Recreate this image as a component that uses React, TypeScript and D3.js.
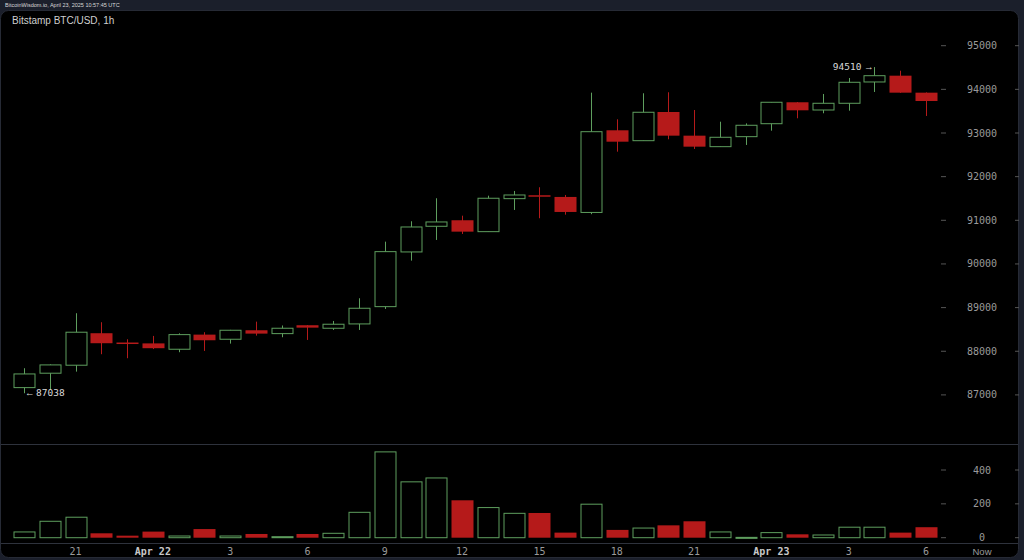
import React from "react";
import * as d3 from "d3";

// Hourly candles, Apr 21 19:00 UTC → Apr 23 06:00 UTC
const hours = [19,20,21,22,23,0,1,2,3,4,5,6,7,8,9,10,11,12,13,14,15,16,17,18,19,20,21,22,23,0,1,2,3,4,5,6];
const opens = [87167,87497,87680,88413,88200,88180,88046,88381,88275,88481,88404,88596,88527,88626,89022,90275,90863,91001,90740,91496,91574,91535,91180,93062,92824,93481,92939,92687,92916,93213,93704,93527,93681,94169,94313,93924];
const highs = [87611,87700,88871,88665,88275,88351,88410,88436,88490,88678,88590,88600,88694,89214,90511,90978,91505,91106,91564,91672,91757,91580,93924,93314,93910,93933,93527,93259,93220,93710,93710,93894,94260,94510,94427,93930];
const lows = [87038,87114,87533,87932,87840,88050,87978,88007,88175,88358,88321,88259,88488,88488,88969,90076,90550,90687,90740,91237,91047,91129,91140,92572,92820,92856,92634,92680,92726,93053,93337,93452,93511,93940,93920,93390];
const closes = [87480,87687,88436,88184,88180,88070,88381,88252,88481,88404,88527,88541,88619,88985,90282,90847,90962,90740,91505,91580,91560,91191,93030,92801,93475,92939,92687,92902,93177,93704,93520,93681,94162,94313,93924,93733];
const volumes = [34,97,121,26,12,36,10,51,10,22,6,22,26,150,507,330,353,221,178,144,146,30,198,46,57,73,97,34,2,30,20,16,62,62,30,62];

const priceTicks = [87000,88000,89000,90000,91000,92000,93000,94000,95000];
const volumeTicks = [0,200,400];
const timeTicks = [
  { i: 2, label: "21", bold: false },
  { i: 5, label: "Apr 22", bold: true },
  { i: 8, label: "3", bold: false },
  { i: 11, label: "6", bold: false },
  { i: 14, label: "9", bold: false },
  { i: 17, label: "12", bold: false },
  { i: 20, label: "15", bold: false },
  { i: 23, label: "18", bold: false },
  { i: 26, label: "21", bold: false },
  { i: 29, label: "Apr 23", bold: true },
  { i: 32, label: "3", bold: false },
  { i: 35, label: "6", bold: false },
];

const GREEN = "#5e9e5e";
const RED = "#b51a1a";
const MONO = "'DejaVu Sans Mono', monospace";
const SANS = "'Liberation Sans', Arial, sans-serif";

export default function App() {
  const W = 1024, H = 560;
  const x = d3.scaleLinear().domain([0, hours.length - 1]).range([24, 926]);
  const y = d3.scaleLinear().domain([87000, 95000]).range([394.9, 45.7]);
  const yv = d3.scaleLinear().domain([0, 400]).range([537.7, 470]);
  const bw = 21;
  const axisX = 982;

  const lowIdx = d3.minIndex(lows);
  const highIdx = d3.maxIndex(highs);
  const lx = x(lowIdx), ly = y(lows[lowIdx]);
  const hx = x(highIdx), hy = y(highs[highIdx]);

  return (
    <svg width={W} height={H} style={{ position: "absolute", left: 0, top: 0, background: "#1b1f2b" }}>
      <rect x={0} y={0} width={W} height={H} fill="#1b1f2b" />
      <text x={5} y={7} fontSize={5.5} fill="#d8d8d8" fontFamily={SANS}>BitcoinWisdom.io, April 23, 2025 10:57:45 UTC</text>
      <rect x={0.5} y={10.5} width={1018} height={547} rx={8} fill="#000" stroke="#262a35" />
      <text x={12} y={24} fontSize={10} fill="#cfcfcf" fontFamily={SANS}>Bitstamp BTC/USD, 1h</text>

      {/* separators */}
      <line x1={1} x2={1018} y1={444.5} y2={444.5} stroke="#2e323c" />
      <line x1={1} x2={1018} y1={543.5} y2={543.5} stroke="#2e323c" />

      {/* price axis */}
      {priceTicks.map((t) => (
        <g key={t}>
          <line x1={941} x2={946} y1={y(t)} y2={y(t)} stroke="#555" />
          <line x1={1015} x2={1019} y1={y(t)} y2={y(t)} stroke="#555" />
          <text x={axisX} y={y(t) + 3.5} fontSize={10} fill="#9a9a9a" textAnchor="middle" fontFamily={MONO}>{t}</text>
        </g>
      ))}

      {/* volume axis */}
      {volumeTicks.map((t) => (
        <g key={t}>
          <line x1={941} x2={946} y1={yv(t)} y2={yv(t)} stroke="#555" />
          <line x1={1015} x2={1019} y1={yv(t)} y2={yv(t)} stroke="#555" />
          <text x={axisX} y={yv(t) + 3.5} fontSize={10} fill="#9a9a9a" textAnchor="middle" fontFamily={MONO}>{t}</text>
        </g>
      ))}

      {/* time axis */}
      {timeTicks.map((t, k) => (
        <text key={k} x={x(t.i)} y={555} fontSize={10} fill={t.bold ? "#c8c8c8" : "#9a9a9a"} fontWeight={t.bold ? "bold" : "normal"} textAnchor="middle" fontFamily={MONO}>{t.label}</text>
      ))}
      <text x={axisX} y={555} fontSize={9.5} fill="#9a9a9a" textAnchor="middle" fontFamily={SANS}>Now</text>

      {/* candles */}
      {hours.map((_, i) => {
        const o = opens[i], c = closes[i], h = highs[i], l = lows[i];
        const up = c >= o;
        const col = up ? GREEN : RED;
        const cx = Math.round(x(i)) + 0.5;
        const top = y(Math.max(o, c));
        const bot = y(Math.min(o, c));
        const bh = Math.max(bot - top, 1);
        return (
          <g key={i}>
            <line x1={cx} x2={cx} y1={y(h)} y2={y(l)} stroke={col} strokeWidth={1} />
            {up ? (
              <rect x={cx - bw / 2} y={top} width={bw} height={bh} fill="#000" stroke={col} strokeWidth={1} />
            ) : (
              <rect x={cx - bw / 2 - 0.5} y={top} width={bw + 1} height={Math.max(bh, 1.5)} fill={col} />
            )}
          </g>
        );
      })}

      {/* volume bars */}
      {volumes.map((v, i) => {
        const up = closes[i] >= opens[i];
        const cx = Math.round(x(i)) + 0.5;
        const top = yv(v);
        const bh = Math.max(yv(0) - top, 1);
        return up ? (
          <rect key={i} x={cx - bw / 2} y={top} width={bw} height={bh} fill="#000" stroke={GREEN} strokeWidth={1} />
        ) : (
          <rect key={i} x={cx - bw / 2 - 0.5} y={top} width={bw + 1} height={bh} fill={RED} />
        );
      })}

      {/* extremes */}
      <text x={lx + 1} y={ly + 3} fontSize={9.5} fill="#d8d8d8" fontFamily={SANS}>{"\u2190"}</text>
      <text x={lx + 12} y={ly + 3} fontSize={9.5} fill="#d8d8d8" fontFamily={MONO}>{String(lows[lowIdx])}</text>
      <text x={hx - 13} y={hy + 3} fontSize={9.5} fill="#d8d8d8" textAnchor="end" fontFamily={MONO}>{String(highs[highIdx])}</text>
      <text x={hx - 1} y={hy + 3} fontSize={9.5} fill="#d8d8d8" textAnchor="end" fontFamily={SANS}>{"\u2192"}</text>
    </svg>
  );
}
